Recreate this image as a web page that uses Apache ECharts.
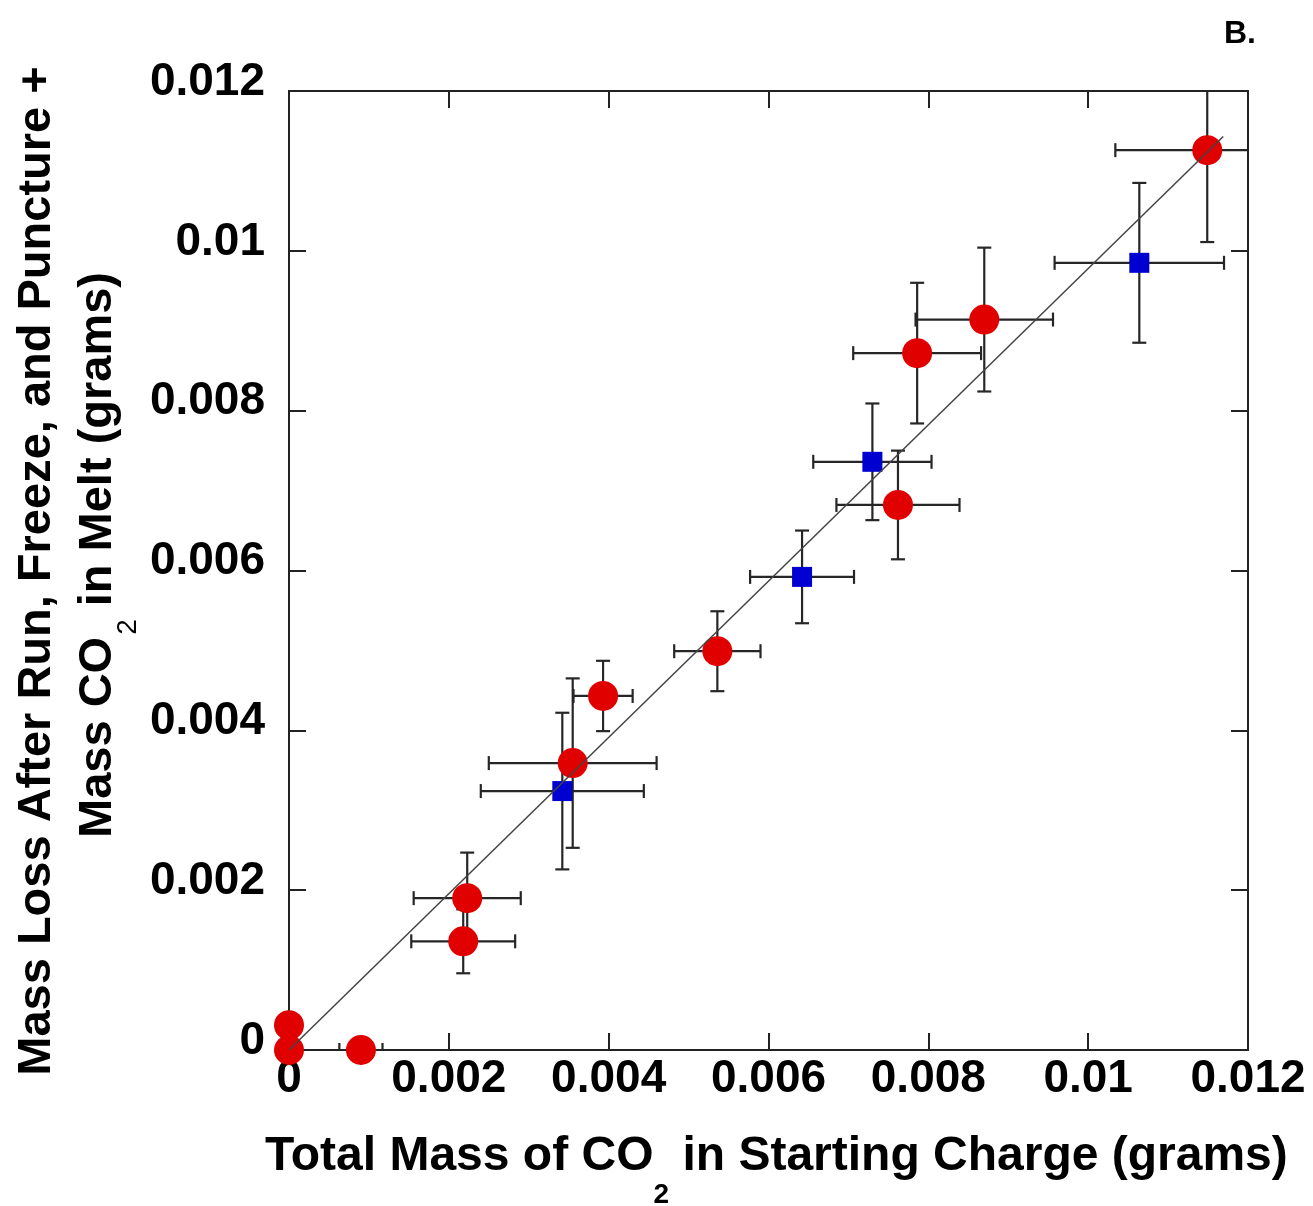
<!DOCTYPE html>
<html>
<head>
<meta charset="utf-8">
<script src="https://cdn.jsdelivr.net/npm/echarts@6/dist/echarts.min.js"></script>
<style>
html,body{margin:0;padding:0;background:#fff;}
#chart{width:1313px;height:1206px;}
</style>
</head>
<body>
<div id="chart"></div>
<script>
// ---- data (grams) ----
const xTickLabels = ['0', '0.002', '0.004', '0.006', '0.008', '0.01', '0.012'];
const yTickLabels = ['0', '0.002', '0.004', '0.006', '0.008', '0.01', '0.012'];

const redX    = [0, 0, 0.0009, 0.00223, 0.00218, 0.00355, 0.00393, 0.00536, 0.00762, 0.00786, 0.0087, 0.01149];
const redY    = [0, 0.00031, 0, 0.0019, 0.00136, 0.00359, 0.00443, 0.00499, 0.00682, 0.00872, 0.00914, 0.01126];
const redXErr = [0, 0, 0.00027, 0.00067, 0.00065, 0.00105, 0.00037, 0.00054, 0.00077, 0.0008, 0.00086, 0.00115];
const redYErr = [0, 0, 0, 0.00057, 0.0004, 0.00106, 0.00044, 0.0005, 0.00068, 0.00088, 0.0009, 0.00115];

const blueX    = [0.00342, 0.00642, 0.0073, 0.01064];
const blueY    = [0.00324, 0.00592, 0.00736, 0.00985];
const blueXErr = [0.00102, 0.00065, 0.00074, 0.00106];
const blueYErr = [0.00098, 0.00058, 0.00073, 0.001];

const fitX = [0, 0.01169];
const fitY = [0, 0.01143];

// ---- build ----
const chart = echarts.init(document.getElementById('chart'));

const redData = redX.map((x, i) => [x, redY[i]]);
const blueData = blueX.map((x, i) => [x, blueY[i]]);
const errData = redX.map((x, i) => [x, redY[i], redXErr[i], redYErr[i]])
  .concat(blueX.map((x, i) => [x, blueY[i], blueXErr[i], blueYErr[i]]));
const fitData = fitX.map((x, i) => [x, fitY[i]]);

const FONT = "'Liberation Sans', Arial, Helvetica, sans-serif";
const cvs = document.createElement('canvas').getContext('2d');
function tw(text, font) { cvs.font = font; return cvs.measureText(text).width; }

const subSize = 28;
const xFont = 'bold 48px ' + FONT;
const yFont = 'bold 47px ' + FONT;
const subBold = 'bold ' + subSize + 'px ' + FONT;
const subNorm = 'normal ' + subSize + 'px ' + FONT;

// x title pieces
const xt1 = 'Total Mass of CO', xt2 = ' in Starting Charge (grams)';
const xStart = 265;
const xw1 = tw(xt1, xFont), xws = tw('2', subBold);
// y title line 2 pieces
const yt1 = 'Mass CO', yt2 = ' in Melt (grams)';
const yw1 = tw(yt1, yFont), yws = tw('2', subNorm);
const yStart = 838;

const capOff = 7;
function errItem(params, api) {
  const x = api.value(0), y = api.value(1), ex = api.value(2), ey = api.value(3);
  const st = { stroke: '#262626', lineWidth: 2.2 };
  const ch = [];
  if (ex > 0) {
    const a = api.coord([x - ex, y]), b = api.coord([x + ex, y]);
    ch.push({ type: 'line', shape: { x1: a[0], y1: a[1], x2: b[0], y2: b[1] }, style: st });
    ch.push({ type: 'line', shape: { x1: a[0], y1: a[1] - capOff, x2: a[0], y2: a[1] + capOff }, style: st });
    ch.push({ type: 'line', shape: { x1: b[0], y1: b[1] - capOff, x2: b[0], y2: b[1] + capOff }, style: st });
  }
  if (ey > 0) {
    const a = api.coord([x, y - ey]), b = api.coord([x, y + ey]);
    ch.push({ type: 'line', shape: { x1: a[0], y1: a[1], x2: b[0], y2: b[1] }, style: st });
    ch.push({ type: 'line', shape: { x1: a[0] - capOff, y1: a[1], x2: a[0] + capOff, y2: a[1] }, style: st });
    ch.push({ type: 'line', shape: { x1: b[0] - capOff, y1: b[1], x2: b[0] + capOff, y2: b[1] }, style: st });
  }
  return { type: 'group', children: ch };
}

const axisLineStyle = { color: '#222', width: 2 };
const tickStyle = { color: '#222', width: 2 };

const option = {
  animation: false,
  backgroundColor: '#fff',
  grid: { left: 289, right: 65, top: 91, bottom: 156, containLabel: false },
  xAxis: [{
    type: 'value', min: 0, max: 0.012, interval: 0.002, position: 'bottom',
    axisLine: { show: true, onZero: false, lineStyle: axisLineStyle },
    axisTick: { show: true, inside: true, length: 17, lineStyle: tickStyle },
    splitLine: { show: false },
    axisLabel: {
      show: true, margin: 6, color: '#000', fontFamily: FONT, fontWeight: 'bold', fontSize: 46,
      formatter: (v, i) => xTickLabels[i]
    }
  }, {
    type: 'value', min: 0, max: 0.012, interval: 0.002, position: 'top',
    axisLine: { show: true, onZero: false, lineStyle: axisLineStyle },
    axisTick: { show: true, inside: true, length: 17, lineStyle: tickStyle },
    splitLine: { show: false }, axisLabel: { show: false }
  }],
  yAxis: [{
    type: 'value', min: 0, max: 0.012, interval: 0.002, position: 'left',
    axisLine: { show: true, onZero: false, lineStyle: axisLineStyle },
    axisTick: { show: true, inside: true, length: 17, lineStyle: tickStyle },
    splitLine: { show: false },
    axisLabel: {
      show: true, margin: 24, color: '#000', fontFamily: FONT, fontWeight: 'bold', fontSize: 46,
      verticalAlign: 'bottom', lineHeight: 18,
      formatter: (v, i) => yTickLabels[i]
    }
  }, {
    type: 'value', min: 0, max: 0.012, interval: 0.002, position: 'right',
    axisLine: { show: true, onZero: false, lineStyle: axisLineStyle },
    axisTick: { show: true, inside: true, length: 17, lineStyle: tickStyle },
    splitLine: { show: false }, axisLabel: { show: false }
  }],
  series: [{
    type: 'custom', name: 'errors', xAxisIndex: 0, yAxisIndex: 0,
    renderItem: errItem, data: errData, clip: true, z: 2,
    encode: { x: 0, y: 1 }
  }, {
    type: 'scatter', name: 'red', data: redData, symbol: 'circle', symbolSize: 30,
    itemStyle: { color: '#e00000', opacity: 1 }, z: 3, clip: false
  }, {
    type: 'scatter', name: 'blue', data: blueData, symbol: 'rect', symbolSize: 20,
    itemStyle: { color: '#0000d0', opacity: 1 }, z: 3, clip: false
  }, {
    type: 'line', name: 'fit', data: fitData, symbol: 'none',
    lineStyle: { color: '#444', width: 1.5 }, z: 4
  }],
  graphic: [
    { type: 'text', x: 1240, y: 34, style: { text: 'B.', font: 'bold 32px ' + FONT, fill: '#000', align: 'center', verticalAlign: 'middle' } },
    { type: 'text', x: xStart, y: 1157, style: { text: xt1, font: xFont, fill: '#000', align: 'left', verticalAlign: 'middle' } },
    { type: 'text', x: xStart + xw1, y: 1195, style: { text: '2', font: subBold, fill: '#000', align: 'left', verticalAlign: 'middle' } },
    { type: 'text', x: xStart + xw1 + xws, y: 1157, style: { text: xt2, font: xFont, fill: '#000', align: 'left', verticalAlign: 'middle' } },
    { type: 'text', x: 37, y: 571, rotation: Math.PI / 2, style: { text: 'Mass Loss After Run, Freeze, and Puncture +', font: yFont, fill: '#000', align: 'center', verticalAlign: 'middle' } },
    { type: 'text', x: 98, y: yStart, rotation: Math.PI / 2, style: { text: yt1, font: yFont, fill: '#000', align: 'left', verticalAlign: 'middle' } },
    { type: 'text', x: 128, y: yStart - yw1 - 2, rotation: Math.PI / 2, style: { text: '2', font: subNorm, fill: '#000', align: 'left', verticalAlign: 'middle' } },
    { type: 'text', x: 98, y: yStart - yw1 - yws - 2, rotation: Math.PI / 2, style: { text: yt2, font: yFont, fill: '#000', align: 'left', verticalAlign: 'middle' } }
  ]
};
chart.setOption(option);
</script>
</body>
</html>
